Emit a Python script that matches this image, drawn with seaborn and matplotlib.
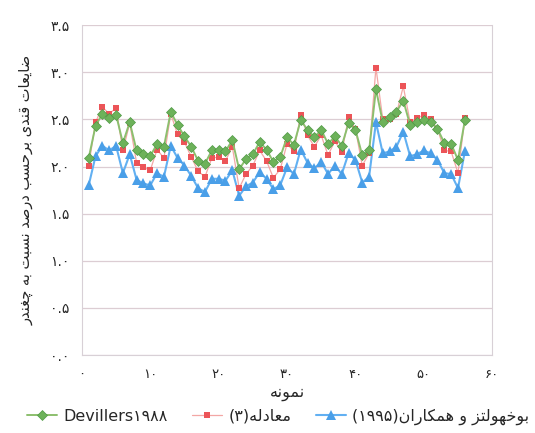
import matplotlib

matplotlib.use("Agg")
import matplotlib.pyplot as plt
import numpy as np
import pandas as pd
import seaborn as sns

# shaped forms: isolated, final, initial, medial (None = does not join to the left)
FORMS = {
    "ا": ("\uFE8D", "\uFE8E", None, None),
    "ب": ("\uFE8F", "\uFE90", "\uFE91", "\uFE92"),
    "ت": ("\uFE95", "\uFE96", "\uFE97", "\uFE98"),
    "ح": ("\uFEA1", "\uFEA2", "\uFEA3", "\uFEA4"),
    "خ": ("\uFEA5", "\uFEA6", "\uFEA7", "\uFEA8"),
    "د": ("\uFEA9", "\uFEAA", None, None),
    "ر": ("\uFEAD", "\uFEAE", None, None),
    "ز": ("\uFEAF", "\uFEB0", None, None),
    "س": ("\uFEB1", "\uFEB2", "\uFEB3", "\uFEB4"),
    "ص": ("\uFEB9", "\uFEBA", "\uFEBB", "\uFEBC"),
    "ض": ("\uFEBD", "\uFEBE", "\uFEBF", "\uFEC0"),
    "ع": ("\uFEC9", "\uFECA", "\uFECB", "\uFECC"),
    "غ": ("\uFECD", "\uFECE", "\uFECF", "\uFED0"),
    "ق": ("\uFED5", "\uFED6", "\uFED7", "\uFED8"),
    "ل": ("\uFEDD", "\uFEDE", "\uFEDF", "\uFEE0"),
    "م": ("\uFEE1", "\uFEE2", "\uFEE3", "\uFEE4"),
    "ن": ("\uFEE5", "\uFEE6", "\uFEE7", "\uFEE8"),
    "ه": ("\uFEE9", "\uFEEA", "\uFEEB", "\uFEEC"),
    "و": ("\uFEED", "\uFEEE", None, None),
    "ی": ("\uFBFC", "\uFBFD", "\uFBFE", "\uFBFF"),
    "چ": ("\uFB7A", "\uFB7B", "\uFB7C", "\uFB7D"),
    "ک": ("\uFB8E", "\uFB8F", "\uFB90", "\uFB91"),
}


def fa(text):
    """Shape Persian letters and return them in visual (left-to-right) order."""
    out = []
    for i, c in enumerate(text):
        if c not in FORMS:
            out.append(c)
            continue
        prev = text[i - 1] if i > 0 else ""
        nxt = text[i + 1] if i + 1 < len(text) else ""
        join_prev = prev in FORMS and FORMS[prev][2] is not None
        join_next = nxt in FORMS and FORMS[c][2] is not None
        iso, fin, ini, med = FORMS[c]
        if join_prev and join_next:
            out.append(med)
        elif join_prev:
            out.append(fin)
        elif join_next:
            out.append(ini)
        else:
            out.append(iso)
    return "".join(reversed(out))


def fa_num(s):
    return str(s).translate(str.maketrans("0123456789", "۰۱۲۳۴۵۶۷۸۹"))


samples = np.arange(1, 57)
devillers = [2.09, 2.43, 2.56, 2.51, 2.55, 2.25, 2.47, 2.17, 2.13, 2.11,
             2.24, 2.21, 2.58, 2.44, 2.32, 2.21, 2.06, 2.03, 2.17, 2.18,
             2.16, 2.28, 1.97, 2.08, 2.13, 2.26, 2.18, 2.05, 2.10, 2.31,
             2.23, 2.49, 2.39, 2.31, 2.39, 2.24, 2.32, 2.22, 2.46, 2.39,
             2.12, 2.17, 2.82, 2.47, 2.52, 2.58, 2.70, 2.44, 2.47, 2.49,
             2.47, 2.40, 2.25, 2.24, 2.07, 2.49]
equation3 = [2.01, 2.47, 2.63, 2.56, 2.62, 2.17, 2.46, 2.04, 1.99, 1.96,
             2.18, 2.09, 2.56, 2.34, 2.26, 2.10, 1.95, 1.89, 2.09, 2.10,
             2.06, 2.21, 1.77, 1.92, 2.01, 2.17, 2.06, 1.88, 1.97, 2.24,
             2.16, 2.55, 2.33, 2.21, 2.33, 2.12, 2.27, 2.15, 2.52, 2.40,
             2.01, 2.14, 3.05, 2.50, 2.50, 2.56, 2.85, 2.47, 2.51, 2.55,
             2.50, 2.40, 2.17, 2.16, 1.93, 2.51]
buchholz = [1.80, 2.11, 2.22, 2.17, 2.22, 1.93, 2.13, 1.86, 1.82, 1.80,
            1.93, 1.89, 2.22, 2.09, 2.01, 1.90, 1.77, 1.73, 1.87, 1.87,
            1.85, 1.96, 1.69, 1.79, 1.83, 1.94, 1.87, 1.76, 1.80, 1.99,
            1.92, 2.18, 2.04, 1.98, 2.05, 1.92, 2.01, 1.92, 2.14, 2.07,
            1.83, 1.89, 2.47, 2.14, 2.16, 2.21, 2.37, 2.11, 2.13, 2.17,
            2.14, 2.07, 1.93, 1.92, 1.77, 2.16]

label_dev = "Devillers" + fa_num("1988")
label_eq = "(" + fa_num("3") + ")" + fa("معادله")
label_bu = "(" + fa_num("1995") + ")" + fa("بوخهولتز و همکاران")

df = pd.DataFrame({
    "sample": samples,
    "devillers": devillers,
    "equation3": equation3,
    "buchholz": buchholz,
})

sns.set_style("white")
plt.rcParams["font.family"] = ["DejaVu Sans"]

fig = plt.figure(figsize=(5.35, 4.33), dpi=100)
ax = fig.add_axes([0.153, 0.18, 0.767, 0.762])

sns.lineplot(data=df, x="sample", y="buchholz", ax=ax, color="#62b0f2",
             linewidth=1.5, marker="^", markersize=6.5, markeredgewidth=0,
             markerfacecolor="#4a9fe8", label=label_bu, zorder=3)
sns.lineplot(data=df, x="sample", y="equation3", ax=ax, color="#f3a7a5",
             linewidth=0.9, marker="s", markersize=4.5, markeredgewidth=0,
             markerfacecolor="#ec5458", label=label_eq, zorder=4)
sns.lineplot(data=df, x="sample", y="devillers", ax=ax, color="#8cbf6e",
             linewidth=1.4, marker="D", markersize=4.6, markeredgewidth=0.5,
             markeredgecolor="#4f9a45", markerfacecolor="#6db25a",
             label=label_dev, zorder=5)

ax.set_xlim(0, 60)
ax.set_ylim(0, 3.5)
yticks = np.arange(0, 3.51, 0.5)
ax.set_yticks(yticks)
ax.set_yticklabels([fa_num(f"{v:.1f}") for v in yticks], fontsize=10)
xticks = np.arange(0, 61, 10)
ax.set_xticks(xticks)
ax.set_xticklabels([fa_num(v) for v in xticks], fontsize=9.5)

ax.grid(axis="y", color="#dccdd3", linewidth=0.9)
ax.grid(axis="x", visible=False)
for side in ["left", "right", "bottom"]:
    ax.spines[side].set_color("#d8d0d6")
ax.spines["top"].set_visible(False)
ax.tick_params(axis="both", length=3, color="#d8d0d6", pad=6)

ax.set_xlabel(fa("نمونه"), fontsize=11.5, labelpad=4)
ax.set_ylabel(fa("ضایعات قندی برحسب درصد نسبت به چغندر"), fontsize=10.5,
              labelpad=12)

ax.get_legend().remove()
handles, labels = ax.get_legend_handles_labels()
order = [2, 1, 0]
fig.legend([handles[i] for i in order], [labels[i] for i in order],
           loc="lower center", bbox_to_anchor=(0.52, -0.015), ncol=3,
           frameon=False, fontsize=11.5, handlelength=1.9, columnspacing=1.5,
           handletextpad=0.4)

fig.savefig("out.png", dpi=100)
